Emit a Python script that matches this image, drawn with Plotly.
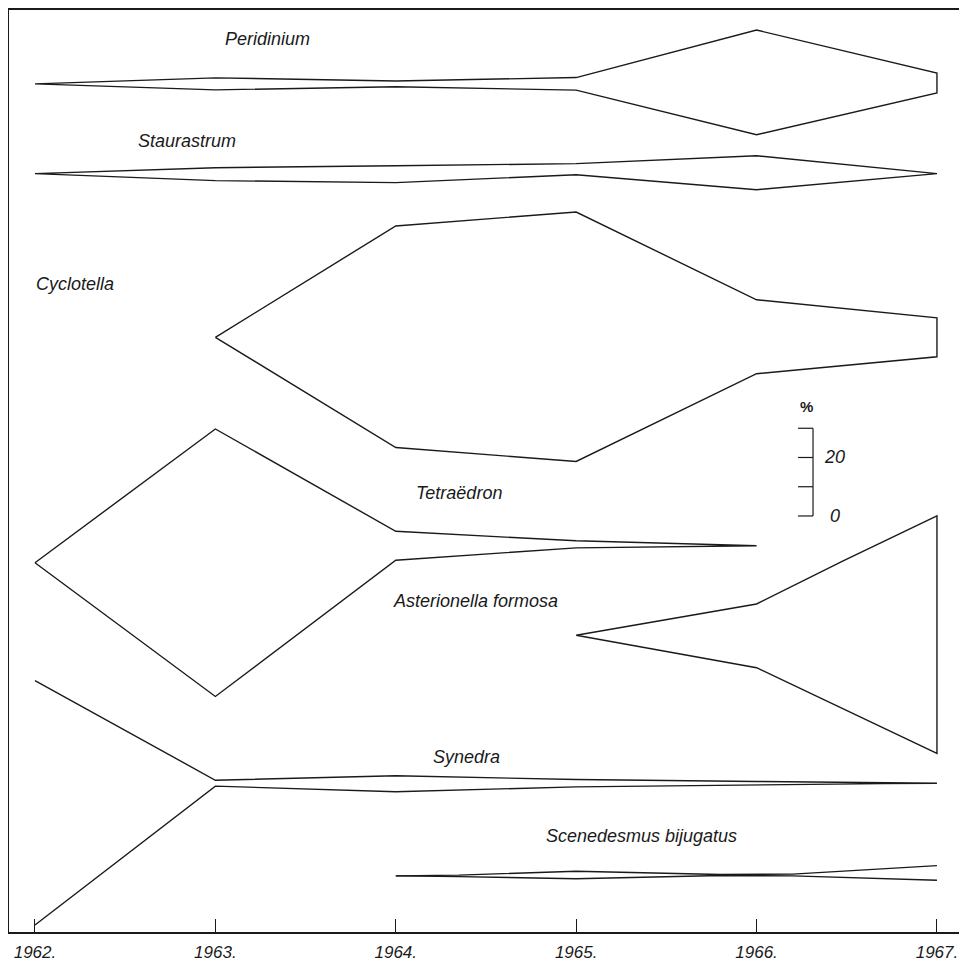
import plotly.graph_objects as go

# ---- data (kite widths are full widths in %) ----
years = [1962, 1963, 1964, 1965, 1966, 1967]
year_labels = ["1962.", "1963.", "1964.", "1965.", "1966.", "1967."]

peridinium_x = [1962, 1963, 1964, 1965, 1966, 1967]
peridinium_pct = [0, 4.1, 2.0, 4.3, 35.8, 6.8]
peridinium_mid = [0, 0, 0, 0, 0.5, 0.3]

staurastrum_x = [1962, 1963, 1964, 1965, 1966, 1967]
staurastrum_pct = [0, 4.4, 5.8, 3.8, 11.6, 0]
staurastrum_mid = [0, -0.2, -0.2, 1.5, 0.3, 0]

cyclotella_x = [1963, 1964, 1965, 1966, 1967]
cyclotella_pct = [0, 75.8, 85.3, 25.3, 13.3]
cyclotella_mid = [0, 0.2, 0.2, 0.2, 0.0]

tetraedron_x = [1962, 1963, 1964, 1965, 1966]
tetraedron_pct = [0, 91.5, 9.9, 2.4, 0]
tetraedron_mid = [-5.8, -5.8, 0, 0.5, 0]

asterionella_x = [1965, 1966, 1966.48, 1967]
asterionella_pct = [0, 21.8, 50.5, 81.2]
asterionella_mid = [0, -0.2, 0.2, 0.2]

synedra_x = [1962, 1963, 1964, 1965, 1966, 1966.7, 1967]
synedra_pct = [83.6, 2.0, 5.5, 2.5, 1.2, 0.3, 0]
synedra_mid = [-6.7, 0, -0.2, 0, 0, 0, 0]

scenedesmus_x = [1964, 1964.35, 1965, 1965.8, 1966.2, 1967]
scenedesmus_pct = [0, 0.5, 2.6, 0.3, 0.6, 5.0]
scenedesmus_mid = [-0.3, -0.3, 0, 0, 0, 0.7]

scale_ticks = [0, 10, 20, 30]
scale_labels = ["0", "", "20", ""]

# ---- layout of the rows: baseline (in %), label position, open end ----
rows = [
    ("Peridinium", peridinium_x, peridinium_pct, peridinium_mid, 290.1, (1963.29, 305.5), None),
    ("Staurastrum", staurastrum_x, staurastrum_pct, staurastrum_mid, 259.4, (1962.84, 270.6), None),
    ("Cyclotella", cyclotella_x, cyclotella_pct, cyclotella_mid, 203.4, (1962.22, 221.5), None),
    ("Tetraëdron", tetraedron_x, tetraedron_pct, tetraedron_mid, 132.1, (1964.35, 150.2), None),
    ("Asterionella formosa", asterionella_x, asterionella_pct, asterionella_mid, 101.5, (1964.44, 113.3), None),
    ("Synedra", synedra_x, synedra_pct, synedra_mid, 50.9, (1964.39, 59.7), None),
    ("Scenedesmus bijugatus", scenedesmus_x, scenedesmus_pct, scenedesmus_mid, 19.5, (1965.36, 32.8), "end"),
]

INK = "#1a1a1a"
FONT = "Liberation Sans"

fig = go.Figure()

for name, xs, pct, mid, base, lab, open_end in rows:
    upper = [base + m + w / 2 for w, m in zip(pct, mid)]
    lower = [base + m - w / 2 for w, m in zip(pct, mid)]
    if open_end == "end":
        px = list(xs) + [None] + list(xs)
        py = upper + [None] + lower
    else:
        px = list(xs) + list(xs)[::-1]
        py = upper + lower[::-1]
    fig.add_trace(go.Scatter(x=px, y=py, mode="lines", name=name,
                             line=dict(color=INK, width=1.4), showlegend=False,
                             hoverinfo="skip"))
    fig.add_annotation(x=lab[0], y=lab[1], text=name, showarrow=False,
                       xanchor="center", yanchor="middle",
                       font=dict(family=FONT, size=18, color=INK, style="italic"))

# scale bar
sb_x, sb_base, sb_len = 1966.313, 142.3, 0.083
bx, by = [sb_x, sb_x, None], [sb_base, sb_base + scale_ticks[-1], None]
for t in scale_ticks:
    bx += [sb_x - sb_len, sb_x, None]
    by += [sb_base + t, sb_base + t, None]
fig.add_trace(go.Scatter(x=bx, y=by, mode="lines", line=dict(color=INK, width=1.2),
                         showlegend=False, hoverinfo="skip"))
for t, s in zip(scale_ticks, scale_labels):
    if s:
        fig.add_annotation(x=sb_x + 0.12, y=sb_base + t, text=s, showarrow=False,
                           xanchor="center", yanchor="middle",
                           font=dict(family=FONT, size=18, color=INK, style="italic"))
fig.add_annotation(x=sb_x - 0.035, y=sb_base + scale_ticks[-1] + 7.6, text="<b>%</b>",
                   showarrow=False, xanchor="center", yanchor="middle",
                   font=dict(family=FONT, size=15, color=INK))

# the page body adds an 8px offset, so the figure is sized to fit the window
fig.update_layout(
    width=959, height=956,
    margin=dict(l=1, r=1, t=0, b=32),
    paper_bgcolor="white", plot_bgcolor="white",
    xaxis=dict(range=[1961.856, 1967.161], tickmode="array", tickvals=years,
               ticktext=year_labels, ticks="inside", ticklen=13, tickwidth=1,
               tickcolor=INK, showline=True, linecolor=INK, linewidth=1.5,
               mirror=True, showgrid=False, zeroline=False, ticklabelstandoff=4,
               tickfont=dict(family=FONT, size=17, color=INK, style="italic")),
    yaxis=dict(range=[0, 315.36], showticklabels=False, ticks="", showgrid=False,
               zeroline=False, showline=True, linecolor=INK, linewidth=1.5),
)

fig.write_html("out.html")
